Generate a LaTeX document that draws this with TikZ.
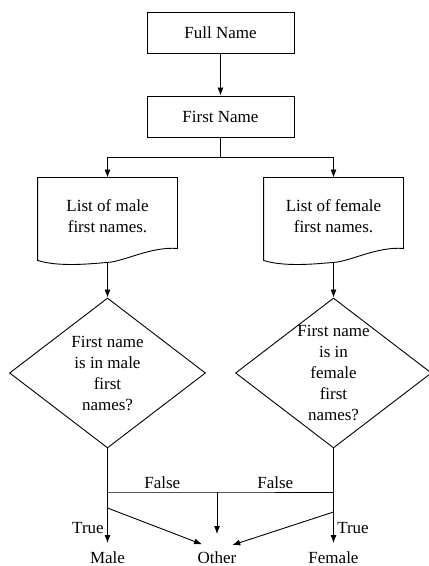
\documentclass[tikz,border=0pt]{standalone}
\usepackage{fontspec}
\setmainfont{Liberation Serif}
\usetikzlibrary{shapes.geometric}
\usetikzlibrary{arrows.meta}

\newcommand\docoutline[1]{%
  \draw (#1.north west) -- (#1.north east) -- ([yshift=6pt]#1.south east)
    .. controls ([xshift=-27pt,yshift=8pt]#1.south east) and ([xshift=17pt,yshift=-7pt]#1.south) .. ([yshift=-8pt]#1.south)
    .. controls ([xshift=-14pt,yshift=-9pt]#1.south) and ([xshift=22pt,yshift=-13pt]#1.south west) .. ([yshift=-6pt]#1.south west)
    -- cycle;}

\begin{document}
\begin{tikzpicture}[x=1pt,y=1pt,line width=0.9pt,>={Latex[length=8pt,width=6pt]},
    font=\fontsize{17}{21}\selectfont,
    box/.style={draw,minimum width=147pt,minimum height=41pt},
    doc/.style={minimum width=139pt,minimum height=76pt,inner sep=0pt,align=center},
    decision/.style={draw,diamond,minimum width=196pt,minimum height=150pt,inner sep=0pt},
    result/.style={inner sep=1pt}]
    \useasboundingbox (0,0) rectangle (429,566);

    \node[box] (full) at (220.5,533) {Full Name};
    \node[box] (first) at (220.5,449.5) {First Name};

    \node[doc] (malelist) at (107.5,350) {List of male\\first names.};
    \node[doc] (femalelist) at (333.5,350) {List of female\\first names.};
    \docoutline{malelist}
    \docoutline{femalelist}

    \node[decision] (maleq) at (107.5,193) {};
    \node[align=center] (maleqtext) at (maleq) {First name\\is in male\\first\\names?};
    \node[decision] (femaleq) at (333.5,193) {};
    \node[align=center] (femaleqtext) at (femaleq) {First name\\is in\\female\\first\\names?};

    \node[result] (male) at (107.5,8.5) {Male};
    \node[result] (other) at (217,8.5) {Other};
    \node[result] (female) at (333.5,8.5) {Female};

    \coordinate (lf) at (107.5,74);
    \coordinate (mf) at (217,74);
    \coordinate (rf) at (333.5,74);
    \coordinate (ld) at (107.5,58);
    \coordinate (rd) at (333.5,54);

    \draw[->] (full) -- (first);
    \draw[->] (first.south) -- ++(0,-20.5) -| (malelist.north);
    \draw[->] (first.south) -- ++(0,-20.5) -| (femalelist.north);
    \draw[->] ([yshift=-8pt]malelist.south) -- (maleq.north);
    \draw[->] ([yshift=-8pt]femalelist.south) -- (femaleq.north);

    \draw[->,shorten >=7pt] (maleq.south) -- node[pos=0.78,left] (truel) {True} (male.north);
    \draw[->,shorten >=7pt] (femaleq.south) -- node[pos=0.78,right] (truer) {True} (female.north);
    \draw (lf) -- node[above] (falsel) {False} (mf) -- node[above] (falser) {False} (rf);
    \draw[->,shorten >=16pt] (mf) -- (other.north);
    \draw[->,shorten >=16pt] (ld) -- (other.north);
    \draw[->,shorten >=16pt] (rd) -- (other.north);
\end{tikzpicture}
\end{document}
